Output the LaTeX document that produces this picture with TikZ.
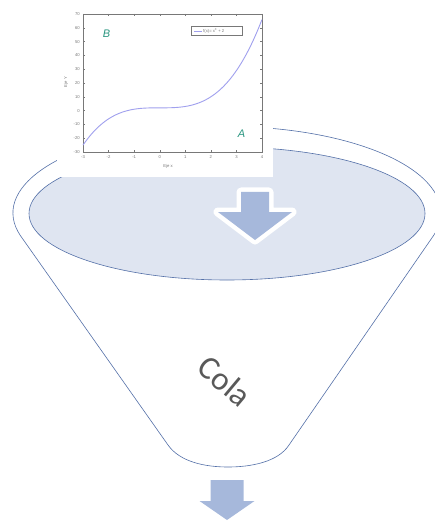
\documentclass[tikz,border=0pt]{standalone}
\usepackage{fontspec}
\setmainfont{Carlito}
\newfontfamily\chartfont{Liberation Sans}
\definecolor{funnelline}{RGB}{84,112,168}
\definecolor{innerfill}{RGB}{223,229,241}
\definecolor{arrowblue}{RGB}{166,184,219}
\definecolor{textgray}{RGB}{89,89,89}
\definecolor{teal}{RGB}{42,150,128}
\definecolor{curvecol}{RGB}{160,160,238}
\definecolor{axisgray}{RGB}{120,120,120}
\tikzset{
  funnelshape/.style={draw=funnelline, line width=0.6pt, fill=white},
  innershape/.style={draw=funnelline, line width=0.6pt, fill=innerfill},
  blockarrow/.style={fill=arrowblue},
  arrowborder/.style={draw=white, fill=white, line width=9pt, line join=round},
  ticklbl/.style={font=\chartfont\fontsize{4.2}{4.2}\selectfont, text=axisgray, inner sep=0pt},
  letterlbl/.style={font=\chartfont\itshape\fontsize{11}{11}\selectfont, text=teal, inner sep=0pt}
}
\begin{document}
\begin{tikzpicture}[x=1pt,y=-1pt]
\useasboundingbox (0,0) rectangle (435,521);
\clip (0,0) rectangle (435,521);
% funnel outline
\draw[funnelshape] (20.4,235.6) arc[start angle=164.85, end angle=375.15, x radius=214, y radius=86.5]
  -- (289,445) .. controls (278,462) and (251,467) .. (228,467)
  .. controls (205,467) and (180,462) .. (168,445) -- cycle;
% inner ellipse
\draw[innershape] (227,213.5) ellipse[x radius=198, y radius=66.5];
% chart background
\fill[white] (57,0) rectangle (273,177);
% chart frame
\draw[axisgray, line width=0.5pt] (83,14) rectangle (262,152);
\foreach \v in {-3,...,4} {
  \draw[axisgray, line width=0.4pt] ({83+25.57*(\v+3)},152) -- ++(0,-2);
  \draw[axisgray, line width=0.4pt] ({83+25.57*(\v+3)},14) -- ++(0,2);
  \node[ticklbl] at ({83+25.57*(\v+3)},157.5) {\v};
}
\foreach \f in {-30,-20,...,70} {
  \draw[axisgray, line width=0.4pt] (83,{14+1.38*(70-\f)}) -- ++(2,0);
  \draw[axisgray, line width=0.4pt] (262,{14+1.38*(70-\f)}) -- ++(-2,0);
  \node[ticklbl, anchor=east] at (80,{14+1.38*(70-\f)}) {\f};
}
\node[ticklbl] (xlab) at (168,166) {Eje x};
\node[ticklbl, rotate=90] (ylab) at (66,82) {Eje Y};
% curve
\draw[curvecol, line width=0.9pt] plot[domain=-3:4, samples=80, smooth]
  ({83+25.57*(\x+3)}, {14+1.38*(70-(\x*\x*\x)-2)});
% legend
\draw[axisgray, line width=0.4pt, fill=white] (191.5,26.5) rectangle (242,35.5);
\draw[curvecol, line width=0.9pt] (194,31) -- (202,31);
\node[ticklbl, anchor=west] (leg) at (203,31) {f(x)= x\textsuperscript{3} + 2};
% letters
\node[letterlbl] (B) at (106.5,33.5) {B};
\node[letterlbl] (A) at (241.5,134) {A};
% arrow inside funnel
\draw[arrowborder] (241,192) -- (269,192) -- (269,212) -- (292,212) -- (255,240) -- (218,212) -- (241,212) -- cycle;
\fill[blockarrow] (241,192) -- (269,192) -- (269,212) -- (292,212) -- (255,240) -- (218,212) -- (241,212) -- cycle;
% arrow below funnel
\fill[blockarrow] (210.5,480) -- (243.5,480) -- (243.5,501) -- (254.5,501) -- (227,520) -- (199.5,501) -- (210.5,501) -- cycle;
% label
\node[font=\fontsize{33}{33}\selectfont, text=textgray, rotate=-40] (cola) at (225,381) {Cola};
\end{tikzpicture}
\end{document}
